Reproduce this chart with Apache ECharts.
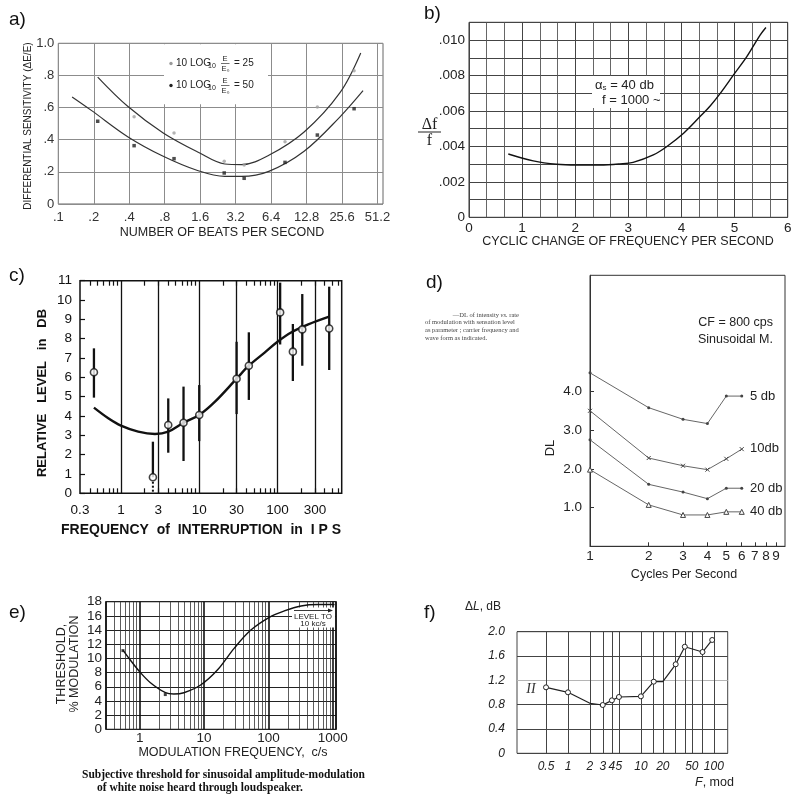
<!DOCTYPE html>
<html><head><meta charset="utf-8">
<script src="https://cdn.jsdelivr.net/npm/echarts@6/dist/echarts.min.js"></script>
<style>html,body{margin:0;padding:0;background:#fff}#c{width:800px;height:798px}</style>
</head><body><div id="c"></div>
<script>
// ---------- DATA ----------
// a) differential sensitivity vs beats per second
const A_XTICKS = [0.1, 0.2, 0.4, 0.8, 1.6, 3.2, 6.4, 12.8, 25.6, 51.2];
const A_P25_X = [0.44, 0.96, 2.56, 3.78, 8.4, 15.8, 32.4];
const A_P25_Y = [0.543, 0.442, 0.266, 0.243, 0.388, 0.604, 0.829];
const A_P50_X = [0.216, 0.44, 0.96, 2.56, 3.78, 8.4, 15.8, 32.4];
const A_P50_Y = [0.515, 0.363, 0.282, 0.193, 0.160, 0.259, 0.429, 0.593];
const A_C25_X = [0.216, 0.388, 0.777, 1.54, 2.59, 3.59, 6.12, 12.2, 24.5, 36.9];
const A_C25_Y = [0.790, 0.608, 0.442, 0.322, 0.249, 0.245, 0.303, 0.448, 0.691, 0.940];
const A_C50_X = [0.131, 0.192, 0.388, 0.777, 1.54, 2.59, 3.59, 6.12, 12.2, 24.5, 38.6];
const A_C50_Y = [0.666, 0.581, 0.419, 0.297, 0.207, 0.172, 0.172, 0.203, 0.328, 0.541, 0.705];
// b) delta f / f vs cyclic change
const B_X = [0.74, 1.21, 1.65, 2.03, 2.47, 2.84, 3.09, 3.47, 3.72, 4.04, 4.35, 4.54, 4.73, 4.98, 5.23, 5.48, 5.59];
const B_Y = [0.00357, 0.00318, 0.00299, 0.00295, 0.00295, 0.00301, 0.00310, 0.00352, 0.00398, 0.00474, 0.00568, 0.00628, 0.00699, 0.00803, 0.00906, 0.01028, 0.01071];
// c) relative level vs frequency of interruption
const C_GRID = [1, 3, 10, 30, 100, 300];
const C_XTICKS = [0.3, 1, 3, 10, 30, 100, 300];
const C_PTS_X = [0.452, 2.56, 4.02, 6.3, 10, 30, 43, 108, 157, 207, 457];
const C_PTS_Y = [6.26, 0.83, 3.53, 3.65, 4.05, 5.93, 6.6, 9.36, 7.33, 8.48, 8.53];
const C_ERR_LO = [4.95, 0.83, 2.10, 1.67, 2.7, 4.1, 4.83, 7.7, 5.81, 6.6, 6.38];
const C_ERR_HI = [7.50, 2.67, 4.91, 5.52, 5.6, 7.84, 8.33, 10.9, 8.76, 10.31, 10.69];
const C_DOT_X = [2.56, 2.56];
const C_DOT_Y = [0.6, 0];
const C_CUR_X = [0.452, 0.689, 1, 1.66, 2.72, 4.02, 6.3, 10, 15.9, 30, 43, 69, 100, 151, 247, 457];
const C_CUR_Y = [4.43, 3.88, 3.50, 3.19, 3.07, 3.19, 3.65, 4.05, 4.74, 5.93, 6.6, 7.29, 7.84, 8.33, 8.74, 9.14];
// d) DL vs cycles per second
const D_X = [1, 2, 3, 4, 5, 6];
const D_XTICKS = [1, 2, 3, 4, 5, 6, 7, 8, 9];
const D_YTICKS = [1, 2, 3, 4];
const D_5 = [4.48, 3.58, 3.28, 3.17, 3.88, 3.88];
const D_10 = [3.50, 2.28, 2.08, 1.98, 2.26, 2.51];
const D_20 = [2.75, 1.60, 1.40, 1.23, 1.50, 1.50];
const D_40 = [1.98, 1.07, 0.81, 0.81, 0.89, 0.89];
// e) threshold % modulation vs modulation frequency
const E_XTICKS = [1, 10, 100, 1000];
const E_X = [0.55, 0.716, 1.0, 1.47, 2.52, 3.39, 4.86, 8.85, 16.1, 29.3, 53.3, 103, 176, 321, 585, 1064];
const E_Y = [11.18, 9.77, 8.12, 6.57, 5.16, 4.98, 5.16, 6.25, 8.36, 11.42, 14.0, 15.8, 16.7, 17.4, 17.6, 17.6];
const E_MK_X = [0.55, 2.5];
const E_MK_Y = [11.1, 4.9];
// f) delta L vs F mod
const F_GRID = [0.5, 1, 2, 3, 4, 5, 10, 15, 20, 30, 40, 50, 70, 100];
const F_XTICKS = [0.5, 1, 2, 3, 4, 5, 10, 20, 50, 100];
const F_X = [0.5, 1, 2, 3, 4, 5, 10, 15, 20, 30, 40, 70, 95];
const F_Y = [1.085, 1.003, 0.822, 0.794, 0.871, 0.926, 0.937, 1.178, 1.178, 1.464, 1.753, 1.666, 1.864];
const F_MARK = [1, 1, 0, 1, 1, 1, 1, 1, 0, 1, 1, 1, 1];

// ---------- HELPERS ----------
const SANS = '"Liberation Sans", Arial, sans-serif';
const SERIF = '"Liberation Serif", "Times New Roman", serif';
const pairs = (xs, ys) => xs.map((x, i) => [x, ys[i]]);
const num = v => String(+(+v).toPrecision(6));
const G = [];
function T(text, x, y, opt) {
  opt = opt || {};
  const rot = opt.rot || 0; delete opt.rot;
  const s = Object.assign({ text: text, fill: '#222', fontSize: 13, fontFamily: SANS, align: 'left', verticalAlign: 'middle' }, opt);
  s.textAlign = s.align; s.textVerticalAlign = s.verticalAlign;
  G.push({ type: 'text', x: x, y: y, rotation: rot, z: 20, silent: true, style: s });
}
function L(x1, y1, x2, y2, stroke, w) {
  G.push({ type: 'line', z: 20, silent: true, shape: { x1: x1, y1: y1, x2: x2, y2: y2 }, style: { stroke: stroke || '#222', lineWidth: w || 1 } });
}
function R(x, y, w, h) {
  G.push({ type: 'rect', z: 1, silent: true, shape: { x: x, y: y, width: w, height: h }, style: { fill: '#fff' } });
}
function C(cx, cy, r, fill) {
  G.push({ type: 'circle', z: 20, silent: true, shape: { cx: cx, cy: cy, r: r }, style: { fill: fill } });
}

// ---------- TEXTS / DECORATION ----------
T('a)', 9, 20, { fontSize: 19, fill: '#111' });
T('b)', 424, 14, { fontSize: 19, fill: '#111' });
T('c)', 9, 276, { fontSize: 19, fill: '#111' });
T('d)', 426, 283, { fontSize: 19, fill: '#111' });
T('e)', 9, 613, { fontSize: 19, fill: '#111' });
T('f)', 424, 613, { fontSize: 19, fill: '#111' });

// a)
T('NUMBER OF BEATS PER SECOND', 222, 233, { fontSize: 12.5, align: 'center' });
T('DIFFERENTIAL SENSITIVITY (\u0394E/E)', 28, 126, { fontSize: 10, align: 'center', rot: Math.PI / 2 });
R(164, 44.3, 104, 60);
[[63.5, '#9a9a9a', '= 25'], [85.5, '#222', '= 50']].forEach(r => {
  const y = r[0];
  C(171, y, 1.7, r[1]);
  T('10 LOG', 176, y, { fontSize: 10 });
  T('10', 208, y + 3, { fontSize: 7 });
  T('E', 225, y - 4.5, { fontSize: 7.5, align: 'center' });
  L(221, y, 229.5, y, '#333', 0.7);
  T('E\u2080', 225.5, y + 5, { fontSize: 7.5, align: 'center' });
  T(r[2], 234, y, { fontSize: 10 });
});

// b)
T('CYCLIC CHANGE OF FREQUENCY PER SECOND', 628, 242, { fontSize: 12.5, align: 'center' });
T('\u0394f', 429.5, 124.5, { fontSize: 16, fontFamily: SERIF, align: 'center' });
L(418, 132, 441, 132, '#222', 1);
T('f', 429.5, 140.5, { fontSize: 16, fontFamily: SERIF, align: 'center' });
R(592, 76, 68, 32);
T('\u03b1{s|s} = 40 db', 595, 85, { fontSize: 13, rich: { s: { fontSize: 8, fontFamily: SANS, fill: '#222', padding: [6, 0, 0, 0] } } });
T('f = 1000 ~', 602, 100, { fontSize: 13 });

// c)
T('RELATIVE   LEVEL   in   DB', 42, 393, { fontSize: 13, fontWeight: 'bold', align: 'center', fill: '#111', rot: Math.PI / 2 });
T('FREQUENCY  of  INTERRUPTION  in  I P S', 201, 530, { fontSize: 14, fontWeight: 'bold', align: 'center', fill: '#111' });

// d)
T('\u2014DL of intensity {i|vs.} rate', 519, 315, { fontSize: 6.5, fontFamily: SERIF, fill: '#444', align: 'right', rich: { i: { fontSize: 6.5, fontFamily: SERIF, fontStyle: 'italic', fill: '#444' } } });
T('of modulation with sensation level', 425, 322.7, { fontSize: 6.5, fontFamily: SERIF, fill: '#444' });
T('as parameter ; carrier frequency and', 425, 330.5, { fontSize: 6.5, fontFamily: SERIF, fill: '#444' });
T('wave form as indicated.', 425, 338.3, { fontSize: 6.5, fontFamily: SERIF, fill: '#444' });
T('CF = 800 cps', 773, 323, { fontSize: 12.5, align: 'right' });
T('Sinusoidal M.', 773, 340, { fontSize: 12.5, align: 'right' });
T('5 db', 750, 396, { fontSize: 13 });
T('10db', 750, 448, { fontSize: 13 });
T('20 db', 750, 488.5, { fontSize: 13 });
T('40 db', 750, 511.5, { fontSize: 13 });
T('DL', 550, 448, { fontSize: 13, align: 'center', rot: Math.PI / 2 });
T('Cycles Per Second', 684, 575, { fontSize: 12.5, align: 'center' });

// e)
T('THRESHOLD,', 62, 664, { fontSize: 12.5, align: 'center', rot: Math.PI / 2 });
T('% MODULATION', 74.5, 664, { fontSize: 12.5, align: 'center', rot: Math.PI / 2 });
T('MODULATION FREQUENCY,  c/s', 233, 753, { fontSize: 12.5, align: 'center' });
T('Subjective threshold for sinusoidal amplitude-modulation', 82, 775, { fontSize: 11.5, fontFamily: SERIF, fontWeight: 'bold', fill: '#111' });
T('of white noise heard through loudspeaker.', 97, 788, { fontSize: 11.5, fontFamily: SERIF, fontWeight: 'bold', fill: '#111' });
R(292, 607.5, 43, 20);
L(294, 610.5, 329, 610.5, '#222', 0.9);
G.push({ type: 'polygon', z: 20, silent: true, shape: { points: [[333, 610.5], [328, 608.5], [328, 612.5]] }, style: { fill: '#222' } });
T('LEVEL TO', 313, 616.5, { fontSize: 8, align: 'center' });
T('10 kc/s', 313, 623.5, { fontSize: 8, align: 'center' });

// f)
T('\u0394{i|L}, dB', 465, 607, { fontSize: 12, rich: { i: { fontSize: 12, fontStyle: 'italic', fontFamily: SANS, fill: '#222' } } });
T('{i|F}, mod', 695, 783, { fontSize: 12.5, rich: { i: { fontSize: 12.5, fontStyle: 'italic', fontFamily: SANS, fill: '#222' } } });
T('II', 531, 689, { fontSize: 14, fontFamily: SERIF, fontStyle: 'italic', align: 'center', fill: '#333' });

// ---------- AXES ----------
const lblBase = { fontFamily: SANS, color: '#222', fontSize: 13 };
const dotFmt = v => { const s = num(v); return s.startsWith('0.') ? s.slice(1) : s; };

const grids = [
  { left: 58.3, top: 43.3, width: 324.7, height: 160.7, show: true, borderColor: '#666', borderWidth: 1 },
  { left: 469, top: 22.3, width: 318.7, height: 195, show: true, borderColor: '#333', borderWidth: 1 },
  { left: 80, top: 280.7, width: 261.7, height: 212.6, show: true, borderColor: '#111', borderWidth: 1.5 },
  { left: 590, top: 275.3, width: 195, height: 271, show: true, borderColor: '#333', borderWidth: 1 },
  { left: 106, top: 601.7, width: 230, height: 127.6, show: true, borderColor: '#111', borderWidth: 1.3 },
  { left: 517, top: 631.7, width: 210.7, height: 121.6, show: true, borderColor: '#444', borderWidth: 1 }
];

const xAxes = [
  { gridIndex: 0, type: 'log', min: 0.1, max: 57,
    axisLine: { show: false }, axisTick: { show: false, customValues: A_XTICKS },
    axisLabel: Object.assign({}, lblBase, { customValues: A_XTICKS, formatter: dotFmt, margin: 7, color: '#333' }),
    splitLine: { show: true, lineStyle: { color: '#8c8c8c', width: 1 } } },
  { gridIndex: 1, type: 'value', min: 0, max: 6, interval: 1,
    axisLine: { show: false }, axisTick: { show: false },
    minorTick: { show: false, splitNumber: 3 }, minorSplitLine: { show: true, lineStyle: { color: '#555', width: 0.9 } },
    axisLabel: Object.assign({}, lblBase, { fontSize: 13.5, margin: 4 }),
    splitLine: { show: true, lineStyle: { color: '#444', width: 1 } } },
  { gridIndex: 2, type: 'log', min: 0.3, max: 660, position: 'bottom',
    axisLine: { show: false }, axisTick: { show: false, inside: true, customValues: C_GRID },
    minorTick: { show: true, splitNumber: 9, length: 5, lineStyle: { color: '#111', width: 1.2 } },
    axisLabel: Object.assign({}, lblBase, { customValues: C_XTICKS, formatter: num, fontSize: 13.5, margin: 10, color: '#111' }),
    splitLine: { show: true, lineStyle: { color: '#111', width: 1.3 } } },
  { gridIndex: 2, type: 'log', min: 0.3, max: 660, position: 'top',
    axisLine: { show: false }, axisTick: { show: false, inside: true },
    minorTick: { show: true, splitNumber: 9, length: 5, lineStyle: { color: '#111', width: 1.2 } },
    axisLabel: { show: false }, splitLine: { show: false } },
  { gridIndex: 3, type: 'log', min: 1, max: 10,
    axisLine: { show: true, lineStyle: { color: '#333', width: 1 } },
    axisTick: { show: true, inside: true, length: 4, customValues: D_XTICKS, lineStyle: { color: '#333' } },
    axisLabel: Object.assign({}, lblBase, { customValues: D_XTICKS, formatter: num, fontSize: 13.5, margin: 3 }),
    splitLine: { show: false } },
  { gridIndex: 4, type: 'log', min: 0.3, max: 1120,
    axisLine: { show: false }, axisTick: { show: false },
    minorTick: { show: false, splitNumber: 9 },
    minorSplitLine: { show: true, lineStyle: { color: '#333', width: 0.8 } },
    axisLabel: Object.assign({}, lblBase, { customValues: E_XTICKS, formatter: num, fontSize: 13.5, margin: 2 }),
    splitLine: { show: true, lineStyle: { color: '#111', width: 1.6 } } },
  { gridIndex: 5, type: 'log', min: 0.2, max: 155,
    axisLine: { show: false }, axisTick: { show: false, customValues: F_GRID },
    axisLabel: Object.assign({}, lblBase, { customValues: F_XTICKS, formatter: num, fontSize: 12, fontStyle: 'italic', margin: 7 }),
    splitLine: { show: true, lineStyle: { color: '#444', width: 1 } } }
];

const yAxes = [
  { gridIndex: 0, type: 'value', min: 0, max: 1, interval: 0.2,
    axisLine: { show: false }, axisTick: { show: false },
    axisLabel: Object.assign({}, lblBase, { color: '#333', margin: 4, formatter: v => v === 0 ? '0' : (v === 1 ? '1.0' : '.' + Math.round(v * 10)) }),
    splitLine: { show: true, lineStyle: { color: '#8c8c8c', width: 1 } } },
  { gridIndex: 1, type: 'value', min: 0, max: 0.011, interval: 0.001,
    axisLine: { show: false }, axisTick: { show: false },
    axisLabel: Object.assign({}, lblBase, { fontSize: 13.5, margin: 4, formatter: v => { const k = Math.round(v * 1000); if (k % 2) return ''; return k === 0 ? '0' : '.' + String(k).padStart(3, '0'); } }),
    splitLine: { show: true, lineStyle: { color: '#444', width: 1 } } },
  { gridIndex: 2, type: 'value', min: 0, max: 11, interval: 1,
    axisLine: { show: false },
    axisTick: { show: true, inside: true, length: 5, lineStyle: { color: '#111', width: 1.2 } },
    axisLabel: Object.assign({}, lblBase, { fontSize: 13.5, margin: 8, color: '#111' }),
    splitLine: { show: false } },
  { gridIndex: 3, type: 'value', min: 0, max: 7,
    axisLine: { show: true, lineStyle: { color: '#333', width: 1 } },
    axisTick: { show: true, inside: true, length: 4, customValues: D_YTICKS, lineStyle: { color: '#333' } },
    axisLabel: Object.assign({}, lblBase, { customValues: D_YTICKS, fontSize: 13.5, margin: 8, formatter: v => (+v).toFixed(1) }),
    splitLine: { show: false } },
  { gridIndex: 4, type: 'value', min: 0, max: 18, interval: 2,
    axisLine: { show: false }, axisTick: { show: false },
    axisLabel: Object.assign({}, lblBase, { fontSize: 13.5, margin: 4 }),
    splitLine: { show: true, lineStyle: { color: '#222', width: 1 } } },
  { gridIndex: 5, type: 'value', min: 0, max: 2, interval: 0.4,
    axisLine: { show: false }, axisTick: { show: false },
    axisLabel: Object.assign({}, lblBase, { fontSize: 12, fontStyle: 'italic', margin: 12, formatter: v => v === 0 ? '0' : (+v).toFixed(1) }),
    splitLine: { show: true, lineStyle: { color: ['#444', '#444', '#444', '#b5b5b5', '#444', '#444'], width: 1 } } }
];

// ---------- SERIES ----------
const SM = 0.35;
const series = [
  // a
  { type: 'line', xAxisIndex: 0, yAxisIndex: 0, data: pairs(A_C25_X, A_C25_Y), smooth: SM, symbol: 'none', lineStyle: { color: '#333', width: 1.2 }, z: 3 },
  { type: 'line', xAxisIndex: 0, yAxisIndex: 0, data: pairs(A_C50_X, A_C50_Y), smooth: SM, symbol: 'none', lineStyle: { color: '#333', width: 1.2 }, z: 3 },
  { type: 'scatter', xAxisIndex: 0, yAxisIndex: 0, data: pairs(A_P25_X, A_P25_Y), symbolSize: 3.5, itemStyle: { color: '#a0a0a0' }, z: 4 },
  { type: 'scatter', xAxisIndex: 0, yAxisIndex: 0, data: pairs(A_P50_X, A_P50_Y), symbol: 'rect', symbolSize: 3.5, itemStyle: { color: '#222' }, z: 4 },
  // b
  { type: 'line', xAxisIndex: 1, yAxisIndex: 1, data: pairs(B_X, B_Y), smooth: SM, symbol: 'none', lineStyle: { color: '#111', width: 1.4 }, z: 3 },
  // c
  { type: 'line', xAxisIndex: 2, yAxisIndex: 2, data: pairs(C_CUR_X, C_CUR_Y), smooth: SM, symbol: 'none', lineStyle: { color: '#111', width: 2.4 }, z: 3 },
  { type: 'custom', xAxisIndex: 2, yAxisIndex: 2, z: 3,
    data: C_PTS_X.map((x, i) => [x, C_ERR_LO[i], C_ERR_HI[i]]),
    encode: { x: 0, y: [1, 2] },
    renderItem: (params, api) => {
      const p1 = api.coord([api.value(0), api.value(1)]);
      const p2 = api.coord([api.value(0), api.value(2)]);
      return { type: 'line', shape: { x1: p1[0], y1: p1[1], x2: p2[0], y2: p2[1] }, style: { stroke: '#111', lineWidth: 2.3 } };
    } },
  { type: 'line', xAxisIndex: 2, yAxisIndex: 2, data: pairs(C_DOT_X, C_DOT_Y), symbol: 'none', lineStyle: { color: '#111', width: 2, type: [2, 2] }, z: 3 },
  { type: 'scatter', xAxisIndex: 2, yAxisIndex: 2, data: pairs(C_PTS_X, C_PTS_Y), symbol: 'circle', symbolSize: 7,
    itemStyle: { color: '#fff', borderColor: '#111', borderWidth: 1.6 }, z: 5 },
  // d
  { type: 'line', xAxisIndex: 4, yAxisIndex: 3, data: pairs(D_X, D_5), symbol: 'circle', symbolSize: 3, lineStyle: { color: '#666', width: 1 }, itemStyle: { color: '#444' }, z: 3 },
  { type: 'line', xAxisIndex: 4, yAxisIndex: 3, data: pairs(D_X, D_10), symbol: 'path://M0 0L10 10M10 0L0 10', symbolSize: 4, lineStyle: { color: '#666', width: 1 }, itemStyle: { color: '#444', borderColor: '#444', borderWidth: 1 }, z: 3 },
  { type: 'line', xAxisIndex: 4, yAxisIndex: 3, data: pairs(D_X, D_20), symbol: 'circle', symbolSize: 3, lineStyle: { color: '#666', width: 1 }, itemStyle: { color: '#444' }, z: 3 },
  { type: 'line', xAxisIndex: 4, yAxisIndex: 3, data: pairs(D_X, D_40), symbol: 'triangle', symbolSize: 5, lineStyle: { color: '#666', width: 1 }, itemStyle: { color: '#fff', borderColor: '#444', borderWidth: 1 }, z: 3 },
  // e
  { type: 'line', xAxisIndex: 5, yAxisIndex: 4, data: pairs(E_X, E_Y), smooth: SM, symbol: 'none', lineStyle: { color: '#111', width: 1.4 }, z: 3 },
  { type: 'scatter', xAxisIndex: 5, yAxisIndex: 4, data: pairs(E_MK_X, E_MK_Y), symbol: 'rect', symbolSize: 3, itemStyle: { color: '#111' }, z: 4 },
  // f
  { type: 'line', xAxisIndex: 6, yAxisIndex: 5, z: 3,
    data: F_X.map((x, i) => F_MARK[i] ? [x, F_Y[i]] : { value: [x, F_Y[i]], symbol: 'none' }),
    symbol: 'circle', symbolSize: 5, lineStyle: { color: '#222', width: 1.2 },
    itemStyle: { color: '#fff', borderColor: '#222', borderWidth: 1 } }
];

const chart = echarts.init(document.getElementById('c'), null, { renderer: 'canvas' });
chart.setOption({
  animation: false,
  backgroundColor: '#fff',
  textStyle: { fontFamily: SANS },
  grid: grids,
  xAxis: xAxes,
  yAxis: yAxes,
  series: series,
  graphic: { elements: G }
});
</script>
</body></html>
